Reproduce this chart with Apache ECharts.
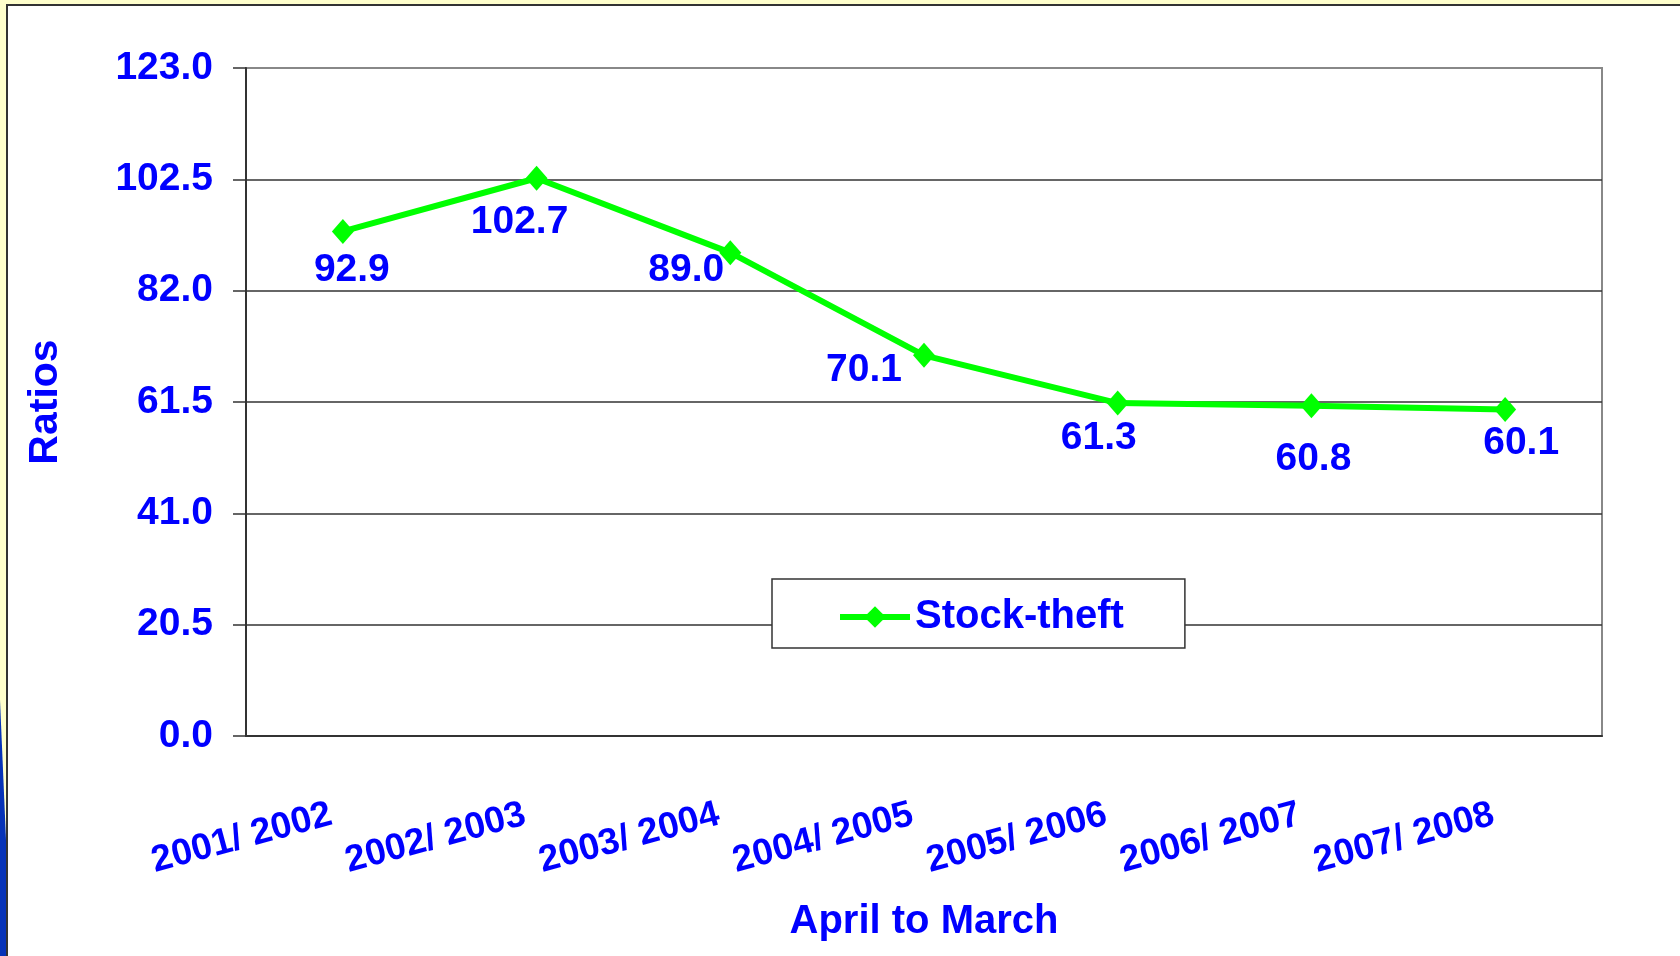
<!DOCTYPE html>
<html>
<head>
<meta charset="utf-8">
<script src="https://cdn.jsdelivr.net/npm/echarts@6/dist/echarts.min.js"></script>
<style>
  html, body { margin: 0; padding: 0; background: #ffffcc; }
  #chart { width: 1680px; height: 956px; }
</style>
</head>
<body>
<div id="chart"></div>
<script>
// fiscal years (April to March)
var years = ['2001/ 2002', '2002/ 2003', '2003/ 2004', '2004/ 2005', '2005/ 2006', '2006/ 2007', '2007/ 2008'];
var stockTheft = [92.9, 102.7, 89.0, 70.1, 61.3, 60.8, 60.1];
var yTicks = [0, 20.5, 41.0, 61.5, 82.0, 102.5, 123.0];

// hand placed data labels, like the original
var labelOffsets = [[9, 39], [-17, 44], [-44, 18], [-60, 15], [-19, 35], [2, 53], [16, 34]];

var BLUE = '#0000ff';
var GREEN = '#00ff00';
var FONT = 'Liberation Sans, Arial, sans-serif';

var chart = echarts.init(document.getElementById('chart'));

var seriesData = stockTheft.map(function (v, i) {
  return {
    value: v,
    label: { offset: labelOffsets[i] }
  };
});

var option = {
  backgroundColor: '#ffffcc',
  animation: false,
  textStyle: { fontFamily: FONT },
  graphic: [
    {
      type: 'rect', z: -10,
      shape: { x: 7, y: 5, width: 1700, height: 1000 },
      style: { fill: '#fff', stroke: '#333', lineWidth: 2 }
    },
    {
      type: 'polygon', z: -9,
      shape: { points: [[0, 700], [6, 840], [6, 956], [0, 956]] },
      style: { fill: '#0733b8' }
    }
  ],
  grid: {
    left: 246, top: 68, right: 78, bottom: 220,
    show: true,
    borderColor: '#888',
    borderWidth: 2,
    backgroundColor: '#fff'
  },
  legend: {
    left: 772, top: 579,
    padding: [18, 61, 11, 65],
    backgroundColor: '#fff',
    borderColor: '#333',
    borderWidth: 1.5,
    borderRadius: 0,
    itemWidth: 70, itemHeight: 27,
    lineStyle: { width: 6, color: GREEN },
    textStyle: { color: BLUE, fontSize: 40, fontWeight: 'bold', fontFamily: FONT },
    data: ['Stock-theft']
  },
  xAxis: {
    type: 'category',
    data: years,
    name: 'April to March',
    nameLocation: 'middle',
    nameGap: 166,
    nameTextStyle: { color: BLUE, fontSize: 40, fontWeight: 'bold', fontFamily: FONT },
    axisLine: { lineStyle: { color: '#333', width: 2 } },
    axisTick: { length: 13, lineStyle: { color: '#333', width: 1.5 } },
    axisLabel: {
      rotate: 15,
      margin: 75,
      padding: [0, 12, 0, 0],
      color: BLUE, fontSize: 37, fontWeight: 'bold', fontFamily: FONT
    }
  },
  yAxis: {
    type: 'value',
    min: 0, max: 123, interval: 20.5,
    name: 'Ratios',
    nameLocation: 'middle',
    nameGap: 180,
    nameTextStyle: { color: BLUE, fontSize: 41, fontWeight: 'bold', fontFamily: FONT },
    axisLine: { show: true, lineStyle: { color: '#333', width: 2 } },
    axisTick: { show: true, length: 13, lineStyle: { color: '#333', width: 1.5 } },
    axisLabel: {
      margin: 33,
      padding: [4, 0, 0, 0],
      color: BLUE, fontSize: 39, fontWeight: 'bold', fontFamily: FONT,
      formatter: function (v) { return v.toFixed(1); }
    },
    splitLine: {
      lineStyle: { color: ['#333', '#333', '#333', '#333', '#333', '#333', '#888'], width: 1.5 }
    }
  },
  series: [{
    name: 'Stock-theft',
    type: 'line',
    data: seriesData,
    color: GREEN,
    lineStyle: { color: GREEN, width: 6 },
    symbol: 'diamond',
    symbolSize: [22, 25],
    itemStyle: { color: GREEN },
    label: {
      show: true,
      position: 'inside',
      color: BLUE, fontSize: 39, fontWeight: 'bold', fontFamily: FONT,
      formatter: function (p) { return p.value.toFixed(1); }
    }
  }]
};

chart.setOption(option);
</script>
</body>
</html>
